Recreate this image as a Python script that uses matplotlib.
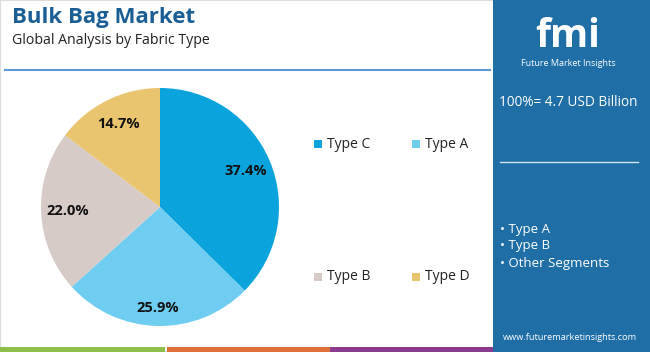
import matplotlib.pyplot as plt
from matplotlib.patches import Rectangle

# Données du graphique
segments = ["Type C", "Type A", "Type B", "Type D"]
parts = [37.4, 25.9, 22.0, 14.7]
couleurs = ["#0aa3db", "#6ecdf1", "#d6cbc7", "#eac56f"]
titre = "Bulk Bag Market"
sous_titre = "Global Analysis by Fabric Type"
total = "100%= 4.7 USD Billion"
points_cles = ["Type A", "Type B", "Other Segments"]
site = "www.futuremarketinsights.com"

W, H = 650, 352
plt.rcParams['font.family'] = ['Open Sans', 'DejaVu Sans']

fig = plt.figure(figsize=(W / 100, H / 100), dpi=100)
fig.patch.set_facecolor("white")


def fx(px):
    return px / W


def fy(py):
    return 1 - py / H


# Bordure grise légère
fig.patches.append(Rectangle((0, 0), 1, 1, transform=fig.transFigure,
                             facecolor="none", edgecolor="#dddddd", lw=1.5, zorder=0))

# Panneau de droite
fig.patches.append(Rectangle((fx(493), 0), fx(W - 493), 1, transform=fig.transFigure,
                             facecolor="#1f6ea6", edgecolor="none", zorder=1))

# Bandes de couleur en bas
bandes = [(0, 165, "#8cc04b"), (167, 330, "#e0703a"), (330, 493, "#8b3a8f")]
for x0, x1, c in bandes:
    fig.patches.append(Rectangle((fx(x0), 0), fx(x1 - x0), 5 / H, transform=fig.transFigure,
                                 facecolor=c, edgecolor="none", zorder=1))

# Ligne sous le titre
fig.add_artist(plt.Line2D([fx(5), fx(490)], [fy(70), fy(70)], color="#5b9bd5", lw=1.5))

# Titres
fig.text(fx(12), fy(17), titre, fontsize=16, fontweight="bold", color="#1a5e96", va="center")
fig.text(fx(12), fy(41), sous_titre, fontsize=10.2, color="#222222", va="center")

# Logo et textes du panneau
fig.text(fx(568), fy(47), "fmi", fontsize=28, fontweight="bold", color="white", ha="center",
         va="baseline")
fig.text(fx(568), fy(63), "Future Market Insights", fontsize=6.5, color="white", ha="center", va="center")
fig.text(fx(568), fy(103), total, fontsize=9.8, color="white", ha="center", va="center")
fig.add_artist(plt.Line2D([fx(500), fx(638)], [fy(162), fy(162)], color="#d0e4f2", lw=1))
for i, p in enumerate(points_cles):
    fig.text(fx(500), fy(229 + 17 * i), "• " + p, fontsize=9.5, color="white", va="center")
fig.text(fx(570), fy(337), site, fontsize=6.6, color="white", ha="center", va="center")

# Camembert
cx, cy, r = 160, 207, 119
ax = fig.add_axes([fx(cx - r), fy(cy + r), (2 * r) / W, (2 * r) / H])
wedges, textes, autotextes = ax.pie(parts, colors=couleurs, startangle=90, counterclock=False,
                                    autopct="%.1f%%", pctdistance=0.78,
                                    wedgeprops=dict(edgecolor="none"))
for t in autotextes:
    t.set_fontsize(10.5)
    t.set_fontweight("bold")
    t.set_color("#111111")
# l'étiquette du bas est un peu plus loin du centre
px, py = autotextes[1].get_position()
autotextes[1].set_position((px * 0.85 / 0.78, py * 0.85 / 0.78))
ax.set_xlim(-1, 1)
ax.set_ylim(-1, 1)
ax.set_aspect("equal")
ax.axis("off")

# Légende
pos_legende = [(318, 144), (416, 144), (318, 277), (416, 277)]
for (lx, ly), nom, c in zip(pos_legende, segments, couleurs):
    fig.patches.append(Rectangle((fx(lx - 4), fy(ly + 4)), 8 / W, 8 / H, transform=fig.transFigure,
                                 facecolor=c, edgecolor="none"))
    fig.text(fx(lx + 9), fy(ly), nom, fontsize=10, color="#222222", va="center")

fig.savefig("out.png", dpi=100, facecolor="white")
